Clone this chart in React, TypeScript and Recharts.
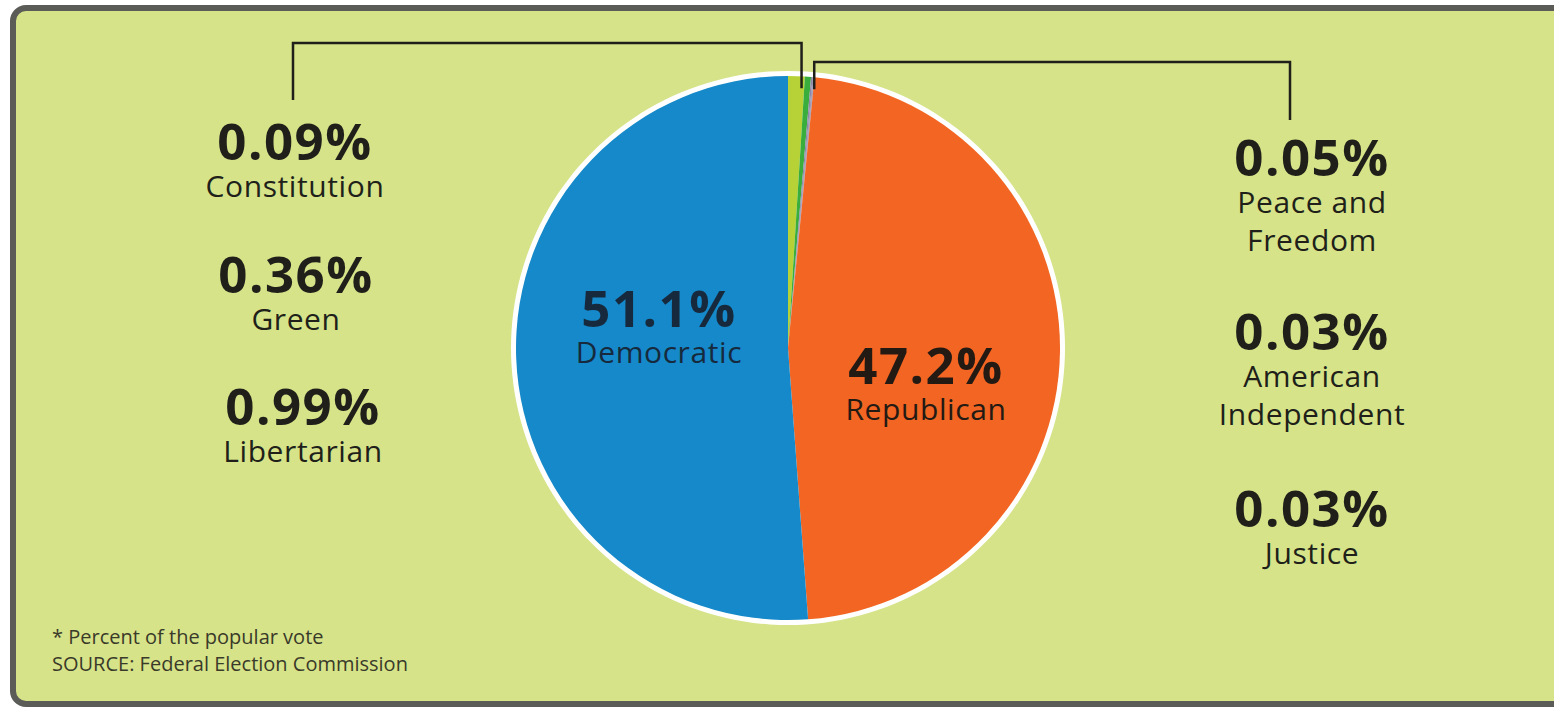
import { PieChart, Pie, Cell } from 'recharts'

// share of the popular vote, in %
const parties = ['Libertarian', 'Green', 'Constitution', 'Peace and Freedom', 'American Independent', 'Justice', 'Republican', 'Democratic']
const shares = [0.99, 0.36, 0.09, 0.05, 0.03, 0.03, 47.2, 51.1]
const sliceColors = ['#b6d236', '#3aae3c', '#8d86a6', '#8d86a6', '#8d86a6', '#8d86a6', '#f26522', '#1589c9']
const shareLabels = ['0.99%', '0.36%', '0.09%', '0.05%', '0.03%', '0.03%', '47.2%', '51.1%']

const data = parties.map((name, i) => ({ name, value: shares[i] }))

const W = 1554
const H = 709
const CX = 788
const CY = 348
const R = 272

const INK = '#201f1a'
const FONT = '"Open Sans", "Noto Sans", sans-serif'

// point on the pie rim for a cumulative share (clockwise from the top)
const total = shares.reduce((a, b) => a + b, 0)
function rimX(cum: number) {
  const a = (cum / total) * Math.PI * 2
  return CX + R * Math.sin(a)
}
function rimY(cum: number) {
  const a = (cum / total) * Math.PI * 2
  return CY - R * Math.cos(a)
}

const leftCum = shares[0] * 0.8
const leftX = rimX(leftCum)
const rightCum = shares[0] + shares[1] + shares[2] + shares[3] + shares[4] + shares[5] / 2
const rightX = rimX(rightCum)

function Label({ x, y, pct, lines, big = 51, small = 30, gap = 37, color = INK }: {
  x: number; y: number; pct: string; lines: string[]; big?: number; small?: number; gap?: number; color?: string
}) {
  return (
    <g fontFamily={FONT} textAnchor="middle" fill={color}>
      <text x={x} y={y} fontSize={big} fontWeight={700} letterSpacing={1.5}>{pct}</text>
      {lines.map((l, i) => (
        <text key={l} x={x} y={y + gap + i * 38} fontSize={small} letterSpacing={0.6}>{l}</text>
      ))}
    </g>
  )
}

export default function App() {
  return (
    <div style={{ position: 'absolute', left: 0, top: 0, width: W, height: H, overflow: 'hidden', background: '#fff' }}>
      <div
        style={{
          position: 'absolute', left: 10, top: 5, width: 1600, height: 690,
          border: '6px solid #5b5b58', borderRadius: 16, background: '#d6e389',
        }}
      />
      <div style={{ position: 'absolute', left: 0, top: 0 }}>
        <PieChart width={W} height={H} margin={{ top: 0, right: 0, bottom: 0, left: 0 }}>
          <Pie
            data={[{ value: 1 }]}
            dataKey="value"
            cx={CX}
            cy={CY}
            outerRadius={R + 5}
            fill="#ffffff"
            stroke="none"
            isAnimationActive={false}
          />
          <Pie
            data={data}
            dataKey="value"
            cx={CX}
            cy={CY}
            outerRadius={R}
            startAngle={90}
            endAngle={-270}
            stroke="none"
            isAnimationActive={false}
          >
            {data.map((d, i) => <Cell key={d.name} fill={sliceColors[i]} />)}
          </Pie>
        </PieChart>
      </div>
      <svg width={W} height={H} style={{ position: 'absolute', left: 0, top: 0 }}>
        <path
          d={`M293,100 V43 H${leftX} V${rimY(leftCum) + 12}`}
          fill="none" stroke={INK} strokeWidth={2.5}
        />
        <path
          d={`M1290,120 V62 H${rightX} V${rimY(rightCum) + 12}`}
          fill="none" stroke={INK} strokeWidth={2.5}
        />

        <Label x={295} y={160} pct={shareLabels[2]} lines={['Constitution']} />
        <Label x={296} y={293} pct={shareLabels[1]} lines={['Green']} />
        <Label x={303} y={425} pct={shareLabels[0]} lines={['Libertarian']} />

        <Label x={1312} y={176} pct={shareLabels[3]} lines={['Peace and', 'Freedom']} />
        <Label x={1312} y={350} pct={shareLabels[4]} lines={['American', 'Independent']} />
        <Label x={1312} y={527} pct={shareLabels[5]} lines={['Justice']} />

        <Label x={659} y={327} pct={shareLabels[7]} lines={['Democratic']} color="#172a3d" gap={36} />
        <Label x={926} y={384} pct={shareLabels[6]} lines={['Republican']} color="#231a14" gap={36} />

        <g fontFamily={FONT} fontSize={20} fill="#3a3a2a">
          <text x={52} y={644}>* Percent of the popular vote</text>
          <text x={52} y={671}>SOURCE: Federal Election Commission</text>
        </g>
      </svg>
    </div>
  )
}
